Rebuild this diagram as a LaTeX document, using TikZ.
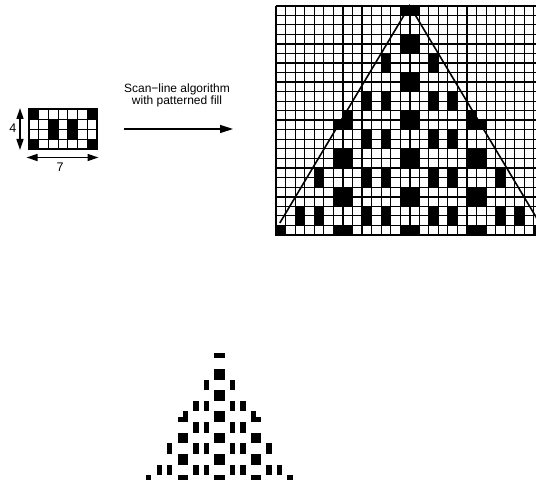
\documentclass[tikz,border=0pt]{standalone}
\usepackage{fontspec}
\setmainfont{Liberation Sans}
\usetikzlibrary{arrows.meta}
\newcommand\drawfilledcells[1]{%
  \foreach \r in {0,...,23}{%
    \foreach \c in {0,...,#1}{%
      \pgfmathtruncatemacro{\tr}{mod(\r,4)}%
      \pgfmathtruncatemacro{\tc}{mod(\c,7)}%
      \pgfmathtruncatemacro{\flag}{(((\tr==0)||(\tr==3))&&((\tc==0)||(\tc==6)))||(((\tr==1)||(\tr==2))&&((\tc==2)||(\tc==4)))}%
      \pgfmathtruncatemacro{\ins}{abs(\c+0.5-14)<=0.25+0.59*(\r+0.5)}%
      \pgfmathtruncatemacro{\both}{\flag*\ins}%
      \ifnum\both=1 \fill[black] (\c,\r) rectangle ++(1,1);\fi
    }%
  }%
}
\begin{document}
\begin{tikzpicture}[x=1pt,y=-1pt,
  thinline/.style={line width=1.1pt, draw=black},
  heavyline/.style={line width=1.8pt, draw=black},
  frameline/.style={line width=2.6pt, draw=black},
  smallgrid/.style={line width=1pt, draw=black},
  smallframe/.style={line width=2pt, draw=black},
  triline/.style={line width=1.6pt, draw=black},
  mainarrow/.style={line width=1.4pt, -{Triangle[length=13pt,width=8pt]}},
  dimarrow/.style={line width=1.4pt, {Triangle[length=11pt,width=7pt]}-{Triangle[length=11pt,width=7pt]}},
  lbl/.style={font=\fontsize{12.5}{12.5}\selectfont, inner sep=0pt},
  caption/.style={font=\fontsize{12}{12}\selectfont, align=center, inner sep=0pt},
]
\useasboundingbox (0,0) rectangle (536,484);

% ---------- small pattern (7 x 4) ----------
\begin{scope}[shift={(29.3,109.5)}, x=9.63pt, y=-9.95pt]
  \foreach \c/\r in {0/0,6/0,2/1,4/1,2/2,4/2,0/3,6/3}
    \fill[black] (\c,\r) rectangle ++(1,1);
  \foreach \i in {1,...,6} \draw[smallgrid] (\i,0) -- (\i,4);
  \foreach \j in {1,...,3} \draw[smallgrid] (0,\j) -- (7,\j);
  \draw[smallframe] (0,0) rectangle (7,4);
\end{scope}

% dimension arrows and labels
\coordinate (vtop) at (20,108);
\coordinate (vbot) at (20,150);
\draw[dimarrow] (vtop) -- (vbot);
\node[lbl] (four) at (12.8,128) {4};
\coordinate (hleft) at (26.5,157.5);
\coordinate (hright) at (98.5,157.5);
\draw[dimarrow] (hleft) -- (hright);
\node[lbl] (seven) at (60,167.5) {7};

% main arrow with caption
\node[caption] (scan) at (177,95.5) {Scan−line algorithm\\with patterned fill};
\coordinate (astart) at (124,129);
\coordinate (aend) at (233,129);
\draw[mainarrow] (astart) -- (aend);

% ---------- big grid ----------
\begin{scope}
\clip (0,0) rectangle (536,484);
\begin{scope}[shift={(276,5.7)}, x=9.55pt, y=-9.55pt]
  \foreach \i in {1,...,28} \draw[thinline] (\i,0) -- (\i,24);
  \foreach \j in {1,...,23} \draw[thinline] (0,\j) -- (28,\j);
  \foreach \i in {7,14,21,28} \draw[heavyline] (\i,0) -- (\i,24);
  \foreach \j in {0,4,...,20} \draw[heavyline] (0,\j) -- (28,\j);
  \drawfilledcells{27}
  \coordinate (apex) at (14,0);
  \coordinate (baseL) at (0.4,22.75);
  \coordinate (baseR) at (27.6,22.75);
  \draw[triline] (baseL) -- (apex) -- (baseR);
  \draw[frameline] (0,0) -- (0,24) -- (28,24);
\end{scope}
\end{scope}

% ---------- result (filled pixels only) ----------
\begin{scope}[shift={(146.2,353)}, x=5.23pt, y=-5.31pt]
  \drawfilledcells{27}
\end{scope}
\end{tikzpicture}
\end{document}
